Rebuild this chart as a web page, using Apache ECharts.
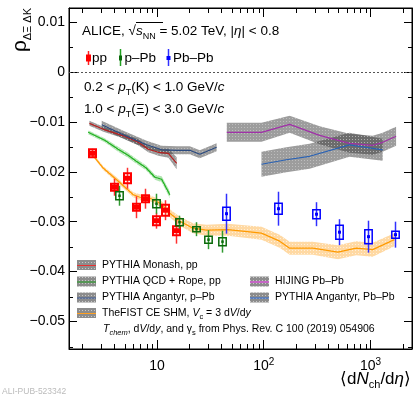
<!DOCTYPE html>
<html>
<head>
<meta charset="utf-8">
<script src="https://cdn.jsdelivr.net/npm/echarts@6/dist/echarts.min.js"></script>
<style>html,body{margin:0;padding:0;background:#fff}#chart{width:416px;height:394px}</style>
</head>
<body>
<div id="chart"></div>
<script>
// data
// pp
var ppX = [2.44, 3.94, 5.22, 6.34, 7.73, 9.72, 11.96, 15.2];
var ppY = [-0.0163, -0.0231, -0.0213, -0.0271, -0.0254, -0.0298, -0.0277, -0.0318];
var ppStat = [0.0009, 0.0017, 0.0021, 0.0022, 0.0020, 0.0016, 0.0020, 0.0026];
var ppSys = [0.0008, 0.0007, 0.0010, 0.0007, 0.0007, 0.0009, 0.0011, 0.0009];
// p-Pb
var pPbX = [4.41, 9.79, 16.1, 23.1, 30.3, 40.5];
var pPbY = [-0.0248, -0.0264, -0.0301, -0.0315, -0.0336, -0.0340];
var pPbStat = [0.0020, 0.0020, 0.0013, 0.0014, 0.0019, 0.0022];
var pPbSys = [0.0008, 0.0008, 0.0007, 0.0005, 0.0007, 0.0008];
// Pb-Pb
var PbPbX = [44.2, 136, 311, 502, 951, 1703];
var PbPbY = [-0.0284, -0.0274, -0.0285, -0.0321, -0.0330, -0.0326];
var PbPbStat = [0.0040, 0.0034, 0.0024, 0.0026, 0.0032, 0.0026];
var PbPbSys = [0.0013, 0.0011, 0.0009, 0.0014, 0.0014, 0.0007];

// models (centre, half width of band)
var monashX = [2.33, 3.15, 4.84, 6.68, 8.3, 10.3, 12.8, 15.3];
var monashY = [-0.0103, -0.0115, -0.0128, -0.0141, -0.0155, -0.0161, -0.0163, -0.0183];
var monashErr = [0.0005, 0.0005, 0.0005, 0.0006, 0.0006, 0.0007, 0.0009, 0.0012];

var ropeX = [2.27, 3.24, 4.33, 5.36, 6.41, 7.89, 9.58, 11.07, 13.2];
var ropeY = [-0.0121, -0.0137, -0.0155, -0.0167, -0.0179, -0.0192, -0.0211, -0.0215, -0.0246];
var ropeErr = [0.0004, 0.0004, 0.0005, 0.0005, 0.0005, 0.0005, 0.0005, 0.0006, 0.0007];

var angPX = [3.04, 4.84, 8.01, 11.07, 15.3, 20.3, 25.2, 36.2];
var angPY = [-0.0106, -0.0126, -0.0146, -0.0156, -0.0157, -0.0157, -0.0165, -0.0151];
var angPErr = [0.0008, 0.0008, 0.0008, 0.0008, 0.0008, 0.0008, 0.0008, 0.0008];

var hijingX = [45.1, 95.3, 175, 334, 636, 1050, 1302, 1738];
var hijingY = [-0.0121, -0.0121, -0.0105, -0.0127, -0.0143, -0.0147, -0.0141, -0.0129];
var hijingErr = [0.0019, 0.0019, 0.0017, 0.0018, 0.0019, 0.0019, 0.0019, 0.0019];

var angAX = [95.3, 163, 269, 636, 1302];
var angAY = [-0.0185, -0.0176, -0.0169, -0.0146, -0.0156];
var angAErr = [0.0025, 0.0025, 0.0025, 0.0024, 0.0022];

var fistX = [2.45, 3.15, 4.35, 6.0, 6.94, 8.6, 10.7, 13.2, 16.4, 21.8, 29.1, 46.3, 95.3, 141, 175, 289, 495, 735, 1050, 1675];
var fistY = [-0.0164, -0.0193, -0.0219, -0.0246, -0.0251, -0.0253, -0.0263, -0.0283, -0.0299, -0.0313, -0.0317, -0.0316, -0.0323, -0.0339, -0.0353, -0.0353, -0.0361, -0.0353, -0.0356, -0.0336];
var fistErr = [0.0003, 0.0004, 0.0005, 0.0005, 0.0006, 0.0006, 0.0007, 0.0008, 0.0009, 0.0010, 0.0011, 0.0012, 0.0013, 0.0013, 0.0013, 0.0013, 0.0014, 0.0014, 0.0014, 0.0013];

var FONT = '"Liberation Sans", Arial, sans-serif';
var xMin = 1.5, xMax = 2450, yMin = -0.0555, yMax = 0.0128;

// minor ticks (log decades 2..9, and every 0.005 on y)
var xMinorTicks = [];
[1, 10, 100, 1000].forEach(function (d) {
  for (var k = 2; k <= 9; k++) {
    if (k * d > xMin && k * d < xMax) xMinorTicks.push(k * d);
  }
});
var yMinorTicks = [-0.055, -0.045, -0.035, -0.025, -0.015, -0.005, 0.005];

function dots(bg, dot) {
  var c = document.createElement('canvas');
  c.width = 3; c.height = 3;
  var g = c.getContext('2d');
  g.fillStyle = bg; g.fillRect(0, 0, 3, 3);
  g.fillStyle = dot; g.fillRect(1, 1, 1, 1);
  return { image: c, repeat: 'repeat' };
}
var grayBand = dots('rgba(60,60,60,0.5)', 'rgba(210,210,210,0.6)');
var greenBand = dots('rgba(60,190,60,0.4)', 'rgba(255,255,255,0.6)');
var orangeBand = dots('rgba(255,170,50,0.45)', 'rgba(255,255,255,0.6)');
var legendBox = dots('#8c8c8c', '#c8c8c8');

function band(xs, ys, es, fill) {
  return {
    type: 'custom', silent: true, z: 2,
    data: xs.map(function (x, i) { return [x, ys[i]]; }),
    encode: { x: 0, y: 1 },
    renderItem: function (params, api) {
      if (params.dataIndex !== 0) return null;
      var up = [], dn = [];
      for (var i = 0; i < xs.length; i++) {
        up.push(api.coord([xs[i], ys[i] + es[i]]));
        dn.unshift(api.coord([xs[i], ys[i] - es[i]]));
      }
      return { type: 'polygon', shape: { points: up.concat(dn) }, style: { fill: fill } };
    }
  };
}

function curve(xs, ys, color) {
  return {
    type: 'line', silent: true, z: 4, showSymbol: false, symbol: 'none',
    data: xs.map(function (x, i) { return [x, ys[i]]; }),
    lineStyle: { color: color, width: 1.2 }
  };
}

function points(xs, ys, st, sy, o) {
  return {
    type: 'custom', silent: true, z: 10,
    data: xs.map(function (x, i) { return [x, ys[i], st[i], sy[i]]; }),
    encode: { x: 0, y: 1 },
    renderItem: function (params, api) {
      var x = api.value(0), y = api.value(1), s = api.value(2), e = api.value(3);
      var c = api.coord([x, y]), t = api.coord([x, y + s]), b = api.coord([x, y - s]);
      var bt = api.coord([x, y + e]), bb = api.coord([x, y - e]);
      var cx = Math.round(c[0]) + 0.5;
      return {
        type: 'group', children: [
          { type: 'line', shape: { x1: cx, y1: t[1], x2: cx, y2: b[1] }, style: { stroke: o.bar, lineWidth: 1.5 } },
          { type: 'rect', shape: { x: cx - o.hw, y: bt[1], width: 2 * o.hw, height: bb[1] - bt[1] },
            style: { fill: 'transparent', stroke: o.box, lineWidth: o.lw } },
          { type: 'rect', shape: { x: cx - o.m / 2, y: c[1] - o.m / 2, width: o.m, height: o.m }, style: { fill: o.mark } }
        ]
      };
    }
  };
}

var minorX = {
  type: 'custom', silent: true, z: 20,
  data: xMinorTicks.map(function (v) { return [v, yMin]; }),
  encode: { x: 0, y: 1 },
  renderItem: function (params, api) {
    var v = api.value(0);
    var b = api.coord([v, yMin]), t = api.coord([v, yMax]);
    var px = Math.round(b[0]) + 0.5;
    var st = { stroke: '#000', lineWidth: 1 };
    return { type: 'group', children: [
      { type: 'line', shape: { x1: px, y1: b[1], x2: px, y2: b[1] - 5 }, style: st },
      { type: 'line', shape: { x1: px, y1: t[1], x2: px, y2: t[1] + 5 }, style: st }
    ] };
  }
};
var minorY = {
  type: 'custom', silent: true, z: 20,
  data: yMinorTicks.map(function (v) { return [xMin, v]; }),
  encode: { x: 0, y: 1 },
  renderItem: function (params, api) {
    var v = api.value(1);
    var l = api.coord([xMin, v]), r = api.coord([xMax, v]);
    var py = Math.round(l[1]) + 0.5;
    var st = { stroke: '#000', lineWidth: 1 };
    return { type: 'group', children: [
      { type: 'line', shape: { x1: l[0], y1: py, x2: l[0] + 4, y2: py }, style: st },
      { type: 'line', shape: { x1: r[0], y1: py, x2: r[0] - 4, y2: py }, style: st }
    ] };
  }
};

function tok(size, extra) {
  var o = { fontSize: size, fontFamily: FONT, fill: '#000' };
  for (var k in extra) o[k] = extra[k];
  return o;
}
function txt(x, y, text, size, rich, align) {
  align = align || 'left';
  return {
    type: 'text', x: x, y: y, silent: true, z: 50,
    style: { text: text, fontSize: size, fontFamily: FONT, fill: '#000', align: align, verticalAlign: 'middle',
      textAlign: align, textVerticalAlign: 'middle', rich: rich || {} }
  };
}
function legendRow(x, y, color, label, rich) {
  return [
    { type: 'rect', silent: true, z: 50, shape: { x: x, y: y - 5, width: 19, height: 10 }, style: { fill: legendBox } },
    { type: 'line', silent: true, z: 51, shape: { x1: x, y1: y + 0.5, x2: x + 19, y2: y + 0.5 }, style: { stroke: color, lineWidth: 1 } },
    txt(x + 25, y, label, 10.5, rich)
  ];
}

var richMain = {
  n: tok(13.5, { lineHeight: 20 }),
  i: tok(13.5, { fontStyle: 'italic', lineHeight: 20 }),
  s: tok(9, { verticalAlign: 'bottom', lineHeight: 12 })
};
var richLeg = {
  n: tok(10.5, { lineHeight: 15 }),
  i: tok(10.5, { fontStyle: 'italic', lineHeight: 15 }),
  s: tok(7.5, { verticalAlign: 'bottom', lineHeight: 9 }),
  si: tok(7.5, { verticalAlign: 'bottom', lineHeight: 9, fontStyle: 'italic' })
};

var rho = txt(20, 46, '\u03C1', 21, null, 'center');
rho.rotation = Math.PI / 2;
var rhoSub = txt(28, 8, '\u0394\u039E \u0394K', 11, null, 'right');
rhoSub.rotation = Math.PI / 2;
var xTitle = txt(411, 379, '{n|\u27E8d}{i|N}{s|ch}{n|/d}{i|\u03B7}{n|\u27E9}', 17, {
  n: tok(17, { lineHeight: 22 }),
  i: tok(17, { fontStyle: 'italic', lineHeight: 22 }),
  s: tok(11, { verticalAlign: 'bottom', lineHeight: 12 })
}, 'right');
var mark = txt(2, 392, 'ALI-PUB-523342', 8.5, null);
mark.style.fill = '#bbb';

var graphics = [
  txt(82, 31, '{n|ALICE, \u221A}{i|s}{s|NN}{n| = 5.02 TeV, |}{i|\u03B7}{n|| < 0.8}', 13.5, richMain),
  { type: 'line', silent: true, z: 50, shape: { x1: 136, y1: 22.5, x2: 163, y2: 22.5 }, style: { stroke: '#000', lineWidth: 1 } },
  // top legend markers
  { type: 'line', silent: true, z: 50, shape: { x1: 88.5, y1: 51, x2: 88.5, y2: 65 }, style: { stroke: '#ff2020', lineWidth: 1.5 } },
  { type: 'rect', silent: true, z: 51, shape: { x: 86, y: 54.5, width: 5, height: 7 }, style: { fill: '#ff0000' } },
  { type: 'line', silent: true, z: 50, shape: { x1: 120.5, y1: 49, x2: 120.5, y2: 66 }, style: { stroke: '#20a020', lineWidth: 1.5 } },
  { type: 'rect', silent: true, z: 51, shape: { x: 119, y: 55.5, width: 3, height: 5 }, style: { fill: '#0a6a0a' } },
  { type: 'line', silent: true, z: 50, shape: { x1: 168.5, y1: 49, x2: 168.5, y2: 66 }, style: { stroke: '#3030ff', lineWidth: 1.5 } },
  { type: 'rect', silent: true, z: 51, shape: { x: 166.5, y: 56, width: 4, height: 4 }, style: { fill: '#0000ff' } },
  txt(92, 58, 'pp', 13.5),
  txt(124.5, 58, 'p\u2013Pb', 13.5),
  txt(173, 58, 'Pb\u2013Pb', 13.5),
  txt(84, 87, '{n|0.2 < }{i|p}{s|T}{n|(K) < 1.0 GeV/}{i|c}', 13.5, richMain),
  txt(84, 109, '{n|1.0 < }{i|p}{s|T}{n|(\u039E) < 3.0 GeV/}{i|c}', 13.5, richMain),
  rho, rhoSub, xTitle, mark
].concat(
  legendRow(77, 265, '#e83030', 'PYTHIA Monash, pp'),
  legendRow(77, 281.5, '#20a020', 'PYTHIA QCD + Rope, pp'),
  legendRow(77, 297.5, '#3a5a9a', 'PYTHIA Angantyr, p\u2013Pb'),
  legendRow(77, 313, '#ffa020', '{n|TheFIST CE SHM, }{i|V}{s|c}{n| = 3 d}{i|V}{n|/d}{i|y}', richLeg),
  legendRow(250, 281.5, '#ff40ff', 'HIJING Pb\u2013Pb'),
  legendRow(250, 297.5, '#3070e0', 'PYTHIA Angantyr, Pb\u2013Pb'),
  [txt(103, 329.5, '{i|T}{si|chem}{n|, d}{i|V}{n|/d}{i|y}{n|, and \u03B3}{s|s}{n| from Phys. Rev. C 100 (2019) 054906}', 10.5, richLeg)]
);

var chart = echarts.init(document.getElementById('chart'), null, { renderer: 'canvas' });

function axisBase() {
  return { axisLine: { show: true, onZero: false, lineStyle: { color: '#000', width: 1 } }, splitLine: { show: false } };
}

chart.setOption({
  animation: false,
  grid: { left: 69, right: 4, top: 8, bottom: 45, show: true, borderColor: '#000', borderWidth: 1, backgroundColor: 'transparent' },
  xAxis: [
    Object.assign(axisBase(), {
      type: 'log', min: xMin, max: xMax, position: 'bottom',
      axisTick: { inside: true, length: 9, lineStyle: { color: '#000' } },
      axisLabel: {
        margin: 8, color: '#000', fontSize: 14, fontFamily: FONT, lineHeight: 18,
        showMinLabel: false, showMaxLabel: false,
        formatter: function (v) {
          var e = Math.log10(v), r = Math.round(e);
          if (Math.abs(e - r) > 1e-6) return '';
          return r === 1 ? '10' : '10{sup|' + r + '}';
        },
        rich: { sup: { fontSize: 10, fontFamily: FONT, color: '#000', verticalAlign: 'top', lineHeight: 10 } }
      }
    }),
    Object.assign(axisBase(), {
      type: 'log', min: xMin, max: xMax, position: 'top',
      axisTick: { inside: true, length: 9, lineStyle: { color: '#000' } },
      axisLabel: { show: false }
    })
  ],
  yAxis: [
    Object.assign(axisBase(), {
      type: 'value', min: yMin, max: yMax, position: 'left',
      axisTick: { inside: true, length: 8, lineStyle: { color: '#000' } },
      axisLabel: {
        margin: 4, color: '#000', fontSize: 14, fontFamily: FONT,
        showMinLabel: false, showMaxLabel: false,
        formatter: function (v) {
          var r = Math.round(v * 100) / 100;
          if (Math.abs(v - r) > 1e-9) return '';
          if (r === 0) return '0';
          return (r < 0 ? '\u2212' : '') + Math.abs(r).toFixed(2);
        }
      }
    }),
    Object.assign(axisBase(), {
      type: 'value', min: yMin, max: yMax, position: 'right',
      axisTick: { inside: true, length: 8, lineStyle: { color: '#000' } },
      axisLabel: { show: false }
    })
  ],
  series: [
    band(hijingX, hijingY, hijingErr, grayBand),
    band(angAX, angAY, angAErr, grayBand),
    band(monashX, monashY, monashErr, grayBand),
    band(angPX, angPY, angPErr, grayBand),
    band(ropeX, ropeY, ropeErr, greenBand),
    band(fistX, fistY, fistErr, orangeBand),
    curve(hijingX, hijingY, '#a030a8'),
    curve(angAX, angAY, '#2a62b4'),
    curve(monashX, monashY, '#b82020'),
    curve(angPX, angPY, '#2a4a80'),
    curve(ropeX, ropeY, '#20b020'),
    Object.assign(curve(fistX, fistY, '#ff9a00'), {
      markLine: {
        silent: true, symbol: 'none', label: { show: false },
        lineStyle: { color: '#555', type: [2, 2], width: 1 },
        data: [{ yAxis: 0 }]
      }
    }),
    points(ppX, ppY, ppStat, ppSys, { bar: '#ff3030', box: '#ff0000', lw: 2, hw: 3.5, m: 5, mark: '#ff0000' }),
    points(pPbX, pPbY, pPbStat, pPbSys, { bar: '#309a30', box: '#0a6a0a', lw: 1.5, hw: 3.7, m: 2.5, mark: '#0a6a0a' }),
    points(PbPbX, PbPbY, PbPbStat, PbPbSys, { bar: '#3030ff', box: '#0000ff', lw: 1.5, hw: 3.7, m: 3, mark: '#0000ff' }),
    minorX,
    minorY
  ],
  graphic: graphics
});
</script>
</body>
</html>
